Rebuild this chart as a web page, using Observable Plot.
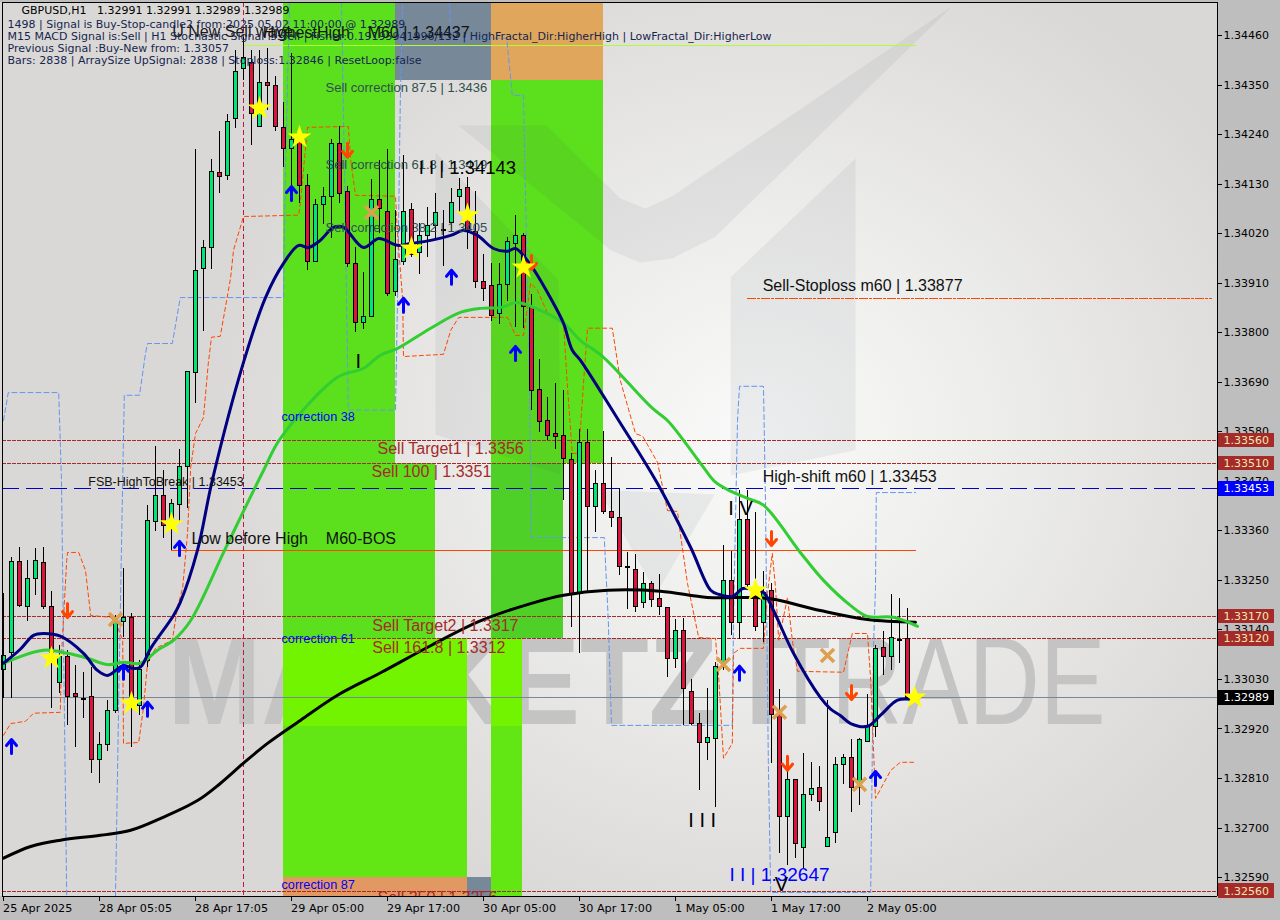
<!DOCTYPE html>
<html><head><meta charset="utf-8">
<script src="https://cdn.jsdelivr.net/npm/d3@7"></script>
<script src="https://cdn.jsdelivr.net/npm/@observablehq/plot@0.6"></script>
<style>
html,body{margin:0;padding:0;background:#bebebe}
svg text{white-space:pre}
#chart svg{display:block;background:radial-gradient(ellipse 560px 520px at 760px 440px,#fafafa 0%,#ececea 45%,#dad8d6 100%)}
</style></head><body><div id="chart"></div>
<script>
// prices are kept in units of 0.00001
const high=[133221,133301,133323,133294,133321,133323,133226,133106,133095,133061,
133046,133057,132912,132984,133172,133277,133177,133072,133417,133548,
133494,133430,133541,133712,134207,134005,134185,134247,134285,134427,
134456,134427,134427,134431,134369,134311,134420,134254,134152,134096,
134123,134229,134258,134125,133989,133934,134140,134183,134207,134072,
134194,134087,134043,134078,134109,134072,134121,134143,134145,134114,
133974,133954,133954,134012,134061,134021,133885,133741,133656,133687,
133672,133532,133585,133585,133494,133581,133523,133454,133312,133308,
133268,133248,133263,133190,133163,133166,133030,132955,133010,133068,
133328,133314,133450,133450,133401,133270,133243,133008,132828,132806,
132866,132846,132837,132984,132857,132864,132897,132899,132997,133106,
133137,133219,133210,133188];
const low=[132988,132988,133190,133159,133217,133186,132966,132999,132928,132879,
132944,132821,132799,132870,132955,133123,132879,132950,133057,133359,
133343,133317,133377,133410,133643,133803,133941,134109,134138,134254,
134360,134216,134256,134294,134247,134167,134101,134087,133938,133956,
134041,134009,134087,133945,133801,133807,133834,134021,133881,133881,
133950,133967,133930,133967,134005,133947,134023,134065,133985,133898,
133870,133825,133818,133870,133812,133810,133628,133579,133561,133541,
133428,133146,133088,133223,133357,133397,133368,133261,133186,133179,
133188,133190,133172,133035,133055,132928,132928,132784,132850,132746,
133050,133128,133119,133228,133137,133112,132844,132644,132617,132633,
132610,132759,132737,132657,132666,132797,132735,132750,132890,132901,
133039,133050,133066,132985];
const open=[133050,133088,133290,133190,133252,133288,133190,133023,133079,132997,
132986,132990,132852,132884,132961,133157,133166,132970,133072,133379,
133437,133368,133417,133501,133710,133941,133989,134154,134147,134274,
134385,134398,134256,134354,134347,134254,134207,134223,134125,133958,
134083,134101,134218,134112,133952,133821,133834,134094,134069,133890,
133958,134072,133978,134014,134036,134029,134043,134101,134121,134023,
133912,133903,133841,133907,133998,134014,133856,133672,133605,133574,
133570,133517,133219,133556,133414,133465,133401,133388,133279,133274,
133199,133241,133208,133188,133075,133137,133003,132932,132888,132897,
133057,133248,133155,133383,133221,133155,133226,132952,132724,132806,
132655,132773,132788,132657,132688,132841,132855,132788,132892,132924,
133099,133079,133117,133119];
const close=[133083,133290,133192,133254,133294,133190,133081,133079,132992,132990,
132984,132852,132884,132961,133161,133166,132977,133050,133381,133437,
133370,133419,133501,133712,133938,133987,134156,134145,134269,134380,
134411,134285,134354,134347,134256,134209,134229,134125,133958,134083,
134101,134218,134109,133952,133821,133834,134094,134074,133887,133961,
134067,133972,134014,134036,134065,134025,134089,134116,134023,133912,
133898,133838,133907,134001,134014,133856,133670,133601,133570,133568,
133519,133217,133556,133414,133465,133401,133388,133279,133277,133190,
133241,133206,133190,133075,133137,133008,132930,132888,132899,133057,
133248,133155,133383,133239,133146,133223,132952,132724,132806,132664,
132773,132786,132757,132677,132841,132855,132788,132895,132924,133097,
133079,133121,133115,132989];

const navyX=[0,2.1,3.75,5,7.1,10,11.75,13,15,16.1,17.1,18.4,21.25,22.1,24.25,26.1,30,32.75,35,36.9,38.1,39.6,41.25,42.5,45,46.9,49.25,50.9,53.4,55.9,57.5,59.25,61.25,63,64,65.9,68.75,70,71.1,72.1,76.9,81.75,85.9,88.4,89.4,91.1,92.4,93.75,95,96.25,98.75,102.1,103.4,104.6,105.9,108,109.6,111.75,113.4];
const navyY=[133066,133097,133128,133132,133126,133088,133050,133039,133061,133055,133057,133099,133172,133201,133317,133472,133734,133878,133954,133994,133989,134005,134034,134034,133989,134009,133994,133998,134005,134016,134027,134016,133987,133981,133987,133950,133865,133821,133761,133739,133605,133465,133323,133228,133219,133214,133232,133230,133223,133183,133088,132990,132964,132950,132932,132926,132950,132984,132986];
const greenX=[0,5,8,10.5,13,15,17.1,19.25,21.25,23.4,27.75,32.5,34.6,41.75,45,47.1,49.25,53.4,57.1,59.6,62.1,64.25,66.25,70,72.1,74.9,81,83,85,87.5,89,90.9,93,95,99.6,102.5,105.9,108,111.25,114.25];
const greenY=[133066,133095,133088,133077,133063,133068,133066,133095,133117,133161,133321,133494,133565,133701,133721,133750,133765,133810,133845,133854,133856,133867,133856,133821,133783,133747,133634,133605,133561,133501,133468,133448,133432,133417,133312,133250,133194,133170,133168,133148];
const blackX=[0,3.4,7.1,12.1,15.9,19.6,24.25,27.1,30,33,37.1,41.75,47.25,53.5,59.75,66,70,75.5,82.1,88,93.75,96.25,102.1,108,114];
const blackY=[132633,132659,132673,132684,132695,132721,132761,132799,132844,132888,132939,132995,133046,133106,133161,133199,133217,133228,133226,133212,133212,133208,133183,133163,133157];
const orangeX=[0,.9,2.75,3.75,7.1,7.25,7.9,8,9.4,10.25,10.9,13.4,14,14.9,15,16.9,17.5,18,19,21.1,21.75,22.4,23,23.4,24,25,25.6,26,27.1,28.4,28.75,30,36.9,37.1,38,43.1,43.4,44,49,49.25,49.9,50,55,55.9,56.9,63,64,65,65.9,66.75,68,70,70.5,71.1,71.9,72.5,73,76.1,77.1,79,79.9,81.75,83,84.25,84.6,85.5,86.9,89,89.4,90,91.1,91.25,92.1,95,95.5,96.1,96.5,96.9,98,98.6,99.25,105,106.1,108,108.4,109,110.9,112.1,113.75];
const orangeY=[132906,132932,132937,132955,132957,133083,133294,133312,133312,133272,133172,133168,133157,133117,132888,132890,132968,133066,133099,133117,133190,133234,133354,133501,133576,133612,133732,133790,133792,133923,133983,134058,134061,134087,134256,134258,134183,134105,134103,134021,133872,133747,133752,133805,133834,133834,133794,133794,133910,133894,133843,133821,133679,133532,133532,133687,133810,133810,133694,133576,133570,133512,133405,133403,133354,133243,133123,133121,133035,132855,132888,133088,133099,133099,133221,133310,133234,133117,133212,133117,133048,133046,133132,133132,133028,132766,132828,132846,132846];
const blueSegments=[
 [[0,133605],[.6,133667],[6.9,133667],[7.25,133472],[7.75,132761],[7.9,132548]],
 [[14,132548],[14.4,132984],[14.9,133472],[15.1,133661],[17,133661],[17.75,133754],[18,133776],[21.1,133776],[22.1,133878],[35,133878],[35.25,134167],[35.75,134534]],
 [[42.25,134534],[42.75,134021],[43.1,133628],[49,133628],[49.25,133872],[49.6,134316],[49.9,134534]],
 [[55.75,134534],[55.9,134454],[62.9,134454],[63.6,134327],[65,134327],[65.75,133672],[66,133345],[75.1,133345],[75.6,133161],[76,132928],[91.1,132928],[91.25,133161],[91.75,133605],[92,133681],[95,133681],[95.25,133423],[95.6,132850],[95.9,132557],[108.4,132557],[108.75,133101],[109,133234],[109.1,133445],[114,133445]]
];
const starX=[6,16,21,32,37,51,58,65,94,113.9];
const starY=[133077,132977,133375,134298,134234,133987,134061,133945,133228,132990];
const upX=[1,15,18,22,36,50,56,64,92,109];
const upY=[132881,133046,132964,133321,134109,133861,133923,133754,133044,132810];
const downX=[8,43,66,96,98,106];
const downY=[133183,134205,133956,133343,132844,133001];
const crossX=[14,46,90,97,103,107];
const crossY=[133163,134067,133063,132957,133083,132797];
const levelPrices=[133560,133510,133170,133120,132560];
const tickPrices=[134460,134350,134240,134130,134020,133910,133800,133690,133580,133470,133360,133250,133140,133030,132920,132810,132700,132590];
const dateLabels=["25 Apr 2025","28 Apr 05:05","28 Apr 17:05","29 Apr 05:00","29 Apr 17:00","30 Apr 05:00","30 Apr 17:00","1 May 05:00","1 May 17:00","2 May 05:00"];
const headerLines=[
 ["GBPUSD,H1   1.32991 1.32991 1.32989 1.32989",21,6],
 ["1498 | Signal is Buy-Stop-candle2 from:2025.05.02 11:00:00 @ 1.32989",7,20],
 ["M15 MACD Signal is:Sell | H1 Stochastic Signal is:Sell | Fisher:0.19195941996/132 | HighFractal_Dir:HigherHigh | LowFractal_Dir:HigherLow",7,32],
 ["Previous Signal :Buy-New from: 1.33057",7,44],
 ["Bars: 2838 | ArraySize UpSignal: 2838 | Stoploss:1.32846 | ResetLoop:false",7,56]
];
const labels=[
 ["U New Sell wave",21.1,134469,16,"#1a1a1a"],
 ["HighestHigh    M60 | 1.34437",32.4,134465,16,"#111"],
 ["Sell correction 87.5 | 1.3436",40.25,134343,13,"#2f4f4f"],
 ["Sell correction 61.8 | 1.3419",40.25,134172,13,"#2f4f4f"],
 ["Sell correction 38.2 | 1.3405",40.25,134032,13,"#2f4f4f"],
 ["I I | 1.34143",51.9,134165,18.5,"#000"],
 ["I",44,133736,20,"#000"],
 ["I V",90.6,133410,20,"#000"],
 ["I I I",85.6,132717,20,"#000"],
 ["I I | 1.32647",90.75,132597,19,"#0000ff"],
 ["V",96.4,132575,20,"#000"],
 ["correction 38",34.75,133612,12.7,"#0000ff"],
 ["correction 61",34.75,133121,12.7,"#0000ff"],
 ["correction 87",34.75,132573,12.7,"#0000ff"],
 ["Sell Target1 | 1.3356",46.75,133541,16,"#a52a2a"],
 ["Sell 100 | 1.3351",46,133490,16,"#a52a2a"],
 ["Sell Target2 | 1.3317",46.1,133150,16,"#a52a2a"],
 ["Sell 161.8 | 1.3312",46.1,133099,16,"#a52a2a"],
 ["Sell 250 | 1.3256",46.75,132546,16,"#a52a2a"],
 ["FSB-HighToBreak | 1.33453",10.6,133468,12.5,"#111"],
 ["Low before High    M60-BOS",23.5,133343,16,"#111"],
 ["Sell-Stoploss m60 | 1.33877",94.9,133903,16,"#111"],
 ["High-shift m60 | 1.33453",94.9,133479,16,"#111"]
];
const zones=[
 [35,49,134534,133510,"#5ce01e"],[35,54,133510,133120,"#5ce01e"],[35,58,133120,132590,"#62e614"],
 [61,75,134360,133510,"#5ce01e"],[61,70,133510,133120,"#4fd028"],[61,64.9,133120,132548,"#62e614"],
 [35,58,133120,132926,"#72f400"],[61,64.9,133120,132926,"#72f400"],
 [49,61,134534,134360,"#778899"],[61,75,134534,134360,"#e0a75c"],
 [35,58,132590,132548,"#e29862"],[58,61,132590,132548,"#778899"]
];
const logoShapes=[
 [[56.9,134260],[67.9,134260],[77.1,134098],[80.25,134076],[83.6,134103],[118.6,134525],[88.9,134012],[83.6,133965],[79.6,133956],[75.9,133983]],
 [[106.5,134187],[106.5,133539],[90.9,133483],[90.9,133923]],
 [[54,134200],[69.4,133916],[69.6,133485],[54,133574]],
 [[74.5,133450],[81.6,133221],[88.9,133441]]
];
const watermark=[
 {text:"MARKETZ",x:20.5,weight:"bold",len:550},
 {text:"I",x:92.6,weight:"bold",len:null},
 {text:"TRADE",x:95.9,weight:"normal",len:335}
];

const p=v=>v/1e5;
const xy=(X,Y)=>X.map((x,i)=>({x,y:p(Y[i])}));
const bars=high.map((h,i)=>({i,h:p(h),l:p(low[i]),o:p(open[i]),c:p(close[i]),up:close[i]>open[i]}));
const SANS="Liberation Sans", DJ="DejaVu Sans";
const frameTop=134534, frameBottom=132548, frameLeft=-.125, frameRight=151.75;
const txt=(rows,extra={})=>Plot.text(rows,{x:d=>d[1],y:d=>p(d[2]),text:d=>d[0],textAnchor:"start",lineAnchor:"middle",fontFamily:SANS,fontSize:d=>d[3],fill:d=>d[4],...extra});
const hline=(price,x1,x2,stroke,dash,w=1)=>Plot.line([{x:x1,y:p(price)},{x:x2,y:p(price)}],{x:"x",y:"y",stroke,strokeDasharray:dash,strokeWidth:w,shapeRendering:"crispEdges"});
const chevron={draw(c,l){c.moveTo(0,0);c.lineTo(0,-l);c.moveTo(-5,-l+6);c.lineTo(0,-l);c.lineTo(5,-l+6);}};

const chart=Plot.plot({
 width:1280,height:920,margin:0,
 x:{domain:[-.375,159.625],range:[0,1280],axis:null},
 y:{domain:[1.345377,1.324947],range:[0,920],axis:null},
 marks:[
  // watermark
  ...watermark.map((w,k)=>Plot.text([w],{x:"x",y:p(133019),text:"text",textAnchor:"start",lineAnchor:"middle",fontFamily:SANS,fontWeight:w.weight,fontSize:124,fill:"#c4c4c4",className:"wm"+k})),
  // zones
  Plot.rect(zones,{x1:d=>d[0],x2:d=>d[1],y1:d=>p(d[2]),y2:d=>p(d[3]),fill:d=>d[4],shapeRendering:"crispEdges"}),
  // logo
  ...logoShapes.map(s=>Plot.line(s,{x:d=>d[0],y:d=>p(d[1]),fill:"#3a4a50",fillOpacity:.07,stroke:"none"})),
  // levels
  ...levelPrices.map(v=>hline(v,frameLeft,frameRight,"#a52a2a","3 2")),
  hline(133453,frameLeft,frameRight,"#0000cd","16 8"),
  hline(133877,93,151,"#ff4500","8 2 2 2"),
  hline(132989,frameLeft,frameRight,"#778899",null),
  hline(133317,21,114,"#ff4500",null),
  hline(134438,30,114,"#adff2f",null),
  // vertical date marker
  Plot.ruleX([30],{y1:p(frameTop),y2:p(frameBottom),stroke:"#c01840",strokeDasharray:"5 3",strokeWidth:1,shapeRendering:"crispEdges"}),
  // stepped channels
  ...blueSegments.map(s=>Plot.line(s,{x:d=>d[0],y:d=>p(d[1]),stroke:"#6495ed",strokeWidth:1,strokeDasharray:"5 3"})),
  Plot.line(xy(orangeX,orangeY),{x:"x",y:"y",stroke:"#ff4500",strokeWidth:1,strokeDasharray:"4 3"}),
  // candles
  Plot.ruleX(bars,{x:"i",y1:"h",y2:"l",stroke:"#000",strokeWidth:1,shapeRendering:"crispEdges"}),
  Plot.rect(bars,{x1:d=>d.i-.25,x2:d=>d.i+.25,y1:"o",y2:"c",fill:d=>d.up?"#00e676":"#dc143c",stroke:"#000",strokeWidth:1,shapeRendering:"crispEdges"}),
  // moving averages
  Plot.line(xy(blackX,blackY),{x:"x",y:"y",stroke:"#000",strokeWidth:3,curve:"catmull-rom"}),
  Plot.line(xy(greenX,greenY),{x:"x",y:"y",stroke:"#32cd32",strokeWidth:3,curve:"catmull-rom"}),
  Plot.line(xy(navyX,navyY),{x:"x",y:"y",stroke:"#000080",strokeWidth:3,curve:"catmull-rom"}),
  // signals
  Plot.dot(xy(crossX,crossY),{x:"x",y:"y",symbol:"times",r:6,stroke:"#dda04e",strokeWidth:3.5}),
  Plot.vector(xy(upX,upY),{x:"x",y:"y",rotate:0,length:14,anchor:"middle",shape:chevron,stroke:"#0000ff",strokeWidth:3}),
  Plot.vector(xy(downX,downY),{x:"x",y:"y",rotate:180,length:14,anchor:"middle",shape:chevron,stroke:"#ff4500",strokeWidth:3}),
  Plot.dot(xy(starX,starY),{x:"x",y:"y",symbol:"star",r:7.5,fill:"#ffff00",stroke:"none"}),
  // labels
  txt(labels),
  // panels and frame
  Plot.rect([0],{x1:frameRight,x2:159.625,y1:1.345377,y2:1.324947,fill:"#bebebe",shapeRendering:"crispEdges"}),
  Plot.rect([0],{x1:-.375,x2:159.625,y1:p(frameBottom),y2:1.324947,fill:"#bebebe",shapeRendering:"crispEdges"}),
  Plot.rect([0],{x1:-.375,x2:frameRight,y1:1.345377,y2:p(frameTop),fill:"#bebebe",shapeRendering:"crispEdges"}),
  Plot.ruleX([frameLeft,frameRight],{y1:p(frameTop),y2:p(frameBottom),stroke:"#000",strokeWidth:1,shapeRendering:"crispEdges"}),
  Plot.ruleY([p(frameTop),p(frameBottom)],{x1:frameLeft,x2:frameRight,stroke:"#000",strokeWidth:1,shapeRendering:"crispEdges"}),
  // y axis
  Plot.ruleY(tickPrices.map(p),{x1:frameRight,x2:152.4,stroke:"#000",shapeRendering:"crispEdges"}),
  Plot.text(tickPrices,{x:152.5,y:p,text:v=>p(v).toFixed(5),textAnchor:"start",fontFamily:DJ,fontSize:11,fill:"#000"}),
  Plot.rect(levelPrices,{x1:151.9,x2:158.9,y1:v=>p(v+16),y2:v=>p(v-16),fill:"#a52a2a",shapeRendering:"crispEdges"}),
  Plot.text(levelPrices,{x:152.5,y:p,text:v=>p(v).toFixed(5),textAnchor:"start",fontFamily:DJ,fontSize:11,fill:"#f0e8b0"}),
  Plot.rect([133453],{x1:151.9,x2:158.9,y1:v=>p(v+16),y2:v=>p(v-16),fill:"#0000ff",shapeRendering:"crispEdges"}),
  Plot.text([133453],{x:152.5,y:p,text:v=>p(v).toFixed(5),textAnchor:"start",fontFamily:DJ,fontSize:11,fill:"#fff"}),
  Plot.rect([132989],{x1:151.9,x2:158.9,y1:v=>p(v+16),y2:v=>p(v-16),fill:"#000",shapeRendering:"crispEdges"}),
  Plot.text([132989],{x:152.5,y:p,text:v=>p(v).toFixed(5),textAnchor:"start",fontFamily:DJ,fontSize:11,fill:"#fff"}),
  // x axis
  Plot.ruleX(dateLabels.map((d,k)=>k*12),{y1:p(frameBottom),y2:p(132536),stroke:"#000",shapeRendering:"crispEdges"}),
  Plot.text(dateLabels,{x:(d,k)=>k*12-.05,y:p(132522),text:d=>d,textAnchor:"start",fontFamily:DJ,fontSize:11.2,fill:"#000"}),
  // header
  ...headerLines.map((h,k)=>Plot.text([h[0]],{frameAnchor:"top-left",dx:h[1],dy:h[2],text:d=>d,textAnchor:"start",fontFamily:DJ,fontSize:k?11:11,fill:k?"#16264e":"#000"}))
 ]
});
document.getElementById("chart").append(chart);
d3.select(chart).selectAll(".wm0 text").attr("textLength",550).attr("lengthAdjust","spacingAndGlyphs");
d3.select(chart).selectAll(".wm2 text").attr("textLength",335).attr("lengthAdjust","spacingAndGlyphs");
</script></body></html>
